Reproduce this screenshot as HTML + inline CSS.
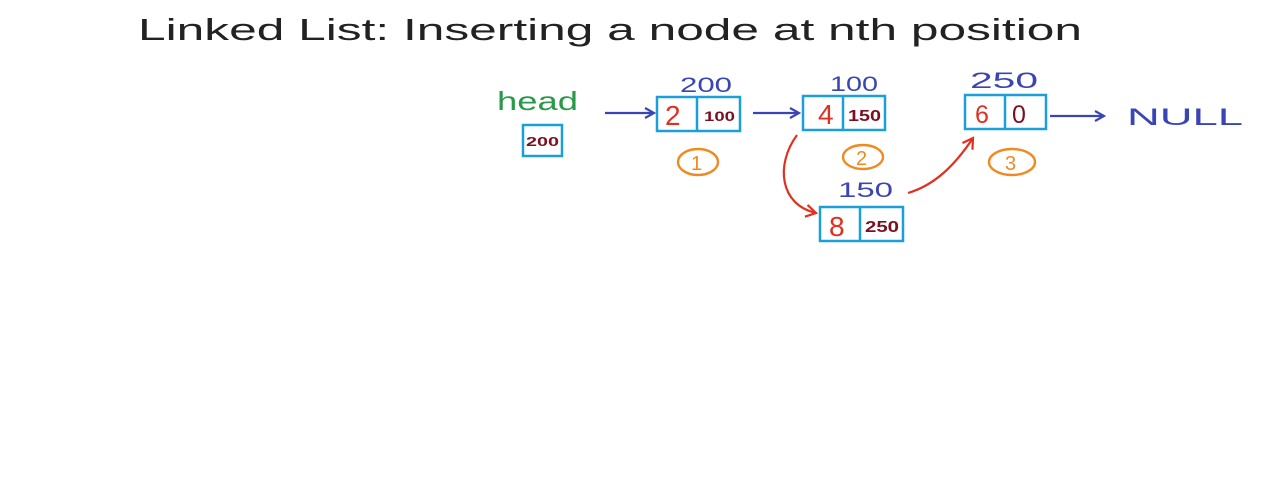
<!DOCTYPE html>
<html><head><meta charset="utf-8"><style>
html,body{margin:0;padding:0;background:#fff;width:1272px;height:499px;overflow:hidden}
svg{display:block}
text{font-family:"Liberation Sans",sans-serif}
</style></head><body>
<svg width="1272" height="499" viewBox="0 0 1272 499">
<defs>
<marker id="ab" markerWidth="12" markerHeight="12" refX="10" refY="6" orient="auto" markerUnits="userSpaceOnUse"><path d="M1,1 L10,6 L1,11" fill="none" stroke="#3a45b5" stroke-width="2.2"/></marker>
<marker id="ar" markerWidth="14" markerHeight="14" refX="11" refY="7" orient="auto" markerUnits="userSpaceOnUse"><path d="M1,1 L11,7 L1,13" fill="none" stroke="#e03020" stroke-width="2.2"/></marker>
</defs>
<text x="138" y="40" font-size="31" fill="#222" textLength="944" lengthAdjust="spacingAndGlyphs">Linked List: Inserting a node at nth position</text>

<text x="497" y="110" font-size="26" fill="#2a9a4a" textLength="81" lengthAdjust="spacingAndGlyphs">head</text>
<rect x="523" y="125" width="39" height="31" fill="none" stroke="#1a9fd8" stroke-width="2.5"/>
<text x="526" y="146" font-size="13" font-weight="bold" fill="#7a1020" textLength="33" lengthAdjust="spacingAndGlyphs">200</text>

<line x1="605" y1="113" x2="654" y2="113" stroke="#3a45b5" stroke-width="2.2" marker-end="url(#ab)"/>
<text x="680" y="92" font-size="21" fill="#3a45b5" textLength="52" lengthAdjust="spacingAndGlyphs">200</text>
<rect x="657" y="97" width="83" height="34" fill="none" stroke="#1a9fd8" stroke-width="2.5"/>
<line x1="697" y1="97" x2="697" y2="131" stroke="#1a9fd8" stroke-width="2.5"/>
<text x="665" y="125" font-size="28" fill="#e03020">2</text>
<text x="704" y="121" font-size="14" font-weight="bold" fill="#7a1020" textLength="31" lengthAdjust="spacingAndGlyphs">100</text>
<ellipse cx="698" cy="162" rx="20" ry="13" fill="none" stroke="#f08a20" stroke-width="2.4"/>
<text x="691" y="170" font-size="20" fill="#f08a20">1</text>

<line x1="753" y1="113" x2="799" y2="113" stroke="#3a45b5" stroke-width="2.2" marker-end="url(#ab)"/>
<text x="830" y="91" font-size="21" fill="#3a45b5" textLength="48" lengthAdjust="spacingAndGlyphs">100</text>
<rect x="803" y="96" width="82" height="34" fill="none" stroke="#1a9fd8" stroke-width="2.5"/>
<line x1="843" y1="96" x2="843" y2="130" stroke="#1a9fd8" stroke-width="2.5"/>
<text x="818" y="124" font-size="28" fill="#e03020">4</text>
<text x="848" y="121" font-size="16" font-weight="bold" fill="#7a1020" textLength="33" lengthAdjust="spacingAndGlyphs">150</text>
<ellipse cx="863" cy="157" rx="20" ry="12" fill="none" stroke="#f08a20" stroke-width="2.4"/>
<text x="856" y="165" font-size="20" fill="#f08a20">2</text>

<text x="838" y="197" font-size="21" fill="#3a45b5" textLength="55" lengthAdjust="spacingAndGlyphs">150</text>
<rect x="820" y="207" width="83" height="34" fill="none" stroke="#1a9fd8" stroke-width="2.5"/>
<line x1="860" y1="207" x2="860" y2="241" stroke="#1a9fd8" stroke-width="2.5"/>
<text x="829" y="236" font-size="28" fill="#e03020">8</text>
<text x="865" y="232" font-size="16" font-weight="bold" fill="#7a1020" textLength="34" lengthAdjust="spacingAndGlyphs">250</text>

<path d="M797,135 C775,165 780,205 816,213" fill="none" stroke="#e03020" stroke-width="2.2" marker-end="url(#ar)"/>
<path d="M908,193 C935,185 955,165 973,138" fill="none" stroke="#e03020" stroke-width="2.2" marker-end="url(#ar)"/>

<text x="970" y="88" font-size="22" fill="#3a45b5" textLength="68" lengthAdjust="spacingAndGlyphs">250</text>
<rect x="965" y="95" width="81" height="34" fill="none" stroke="#1a9fd8" stroke-width="2.5"/>
<line x1="1005" y1="95" x2="1005" y2="129" stroke="#1a9fd8" stroke-width="2.5"/>
<text x="975" y="123" font-size="25" fill="#e03020">6</text>
<text x="1012" y="123" font-size="25" fill="#7a1020">0</text>
<ellipse cx="1012" cy="162" rx="23" ry="13" fill="none" stroke="#f08a20" stroke-width="2.4"/>
<text x="1005" y="170" font-size="20" fill="#f08a20">3</text>

<line x1="1050" y1="116" x2="1104" y2="116" stroke="#3a45b5" stroke-width="2.2" marker-end="url(#ab)"/>
<text x="1127" y="125" font-size="24" fill="#3a45b5" textLength="116" lengthAdjust="spacingAndGlyphs">NULL</text>
</svg>
</body></html>
